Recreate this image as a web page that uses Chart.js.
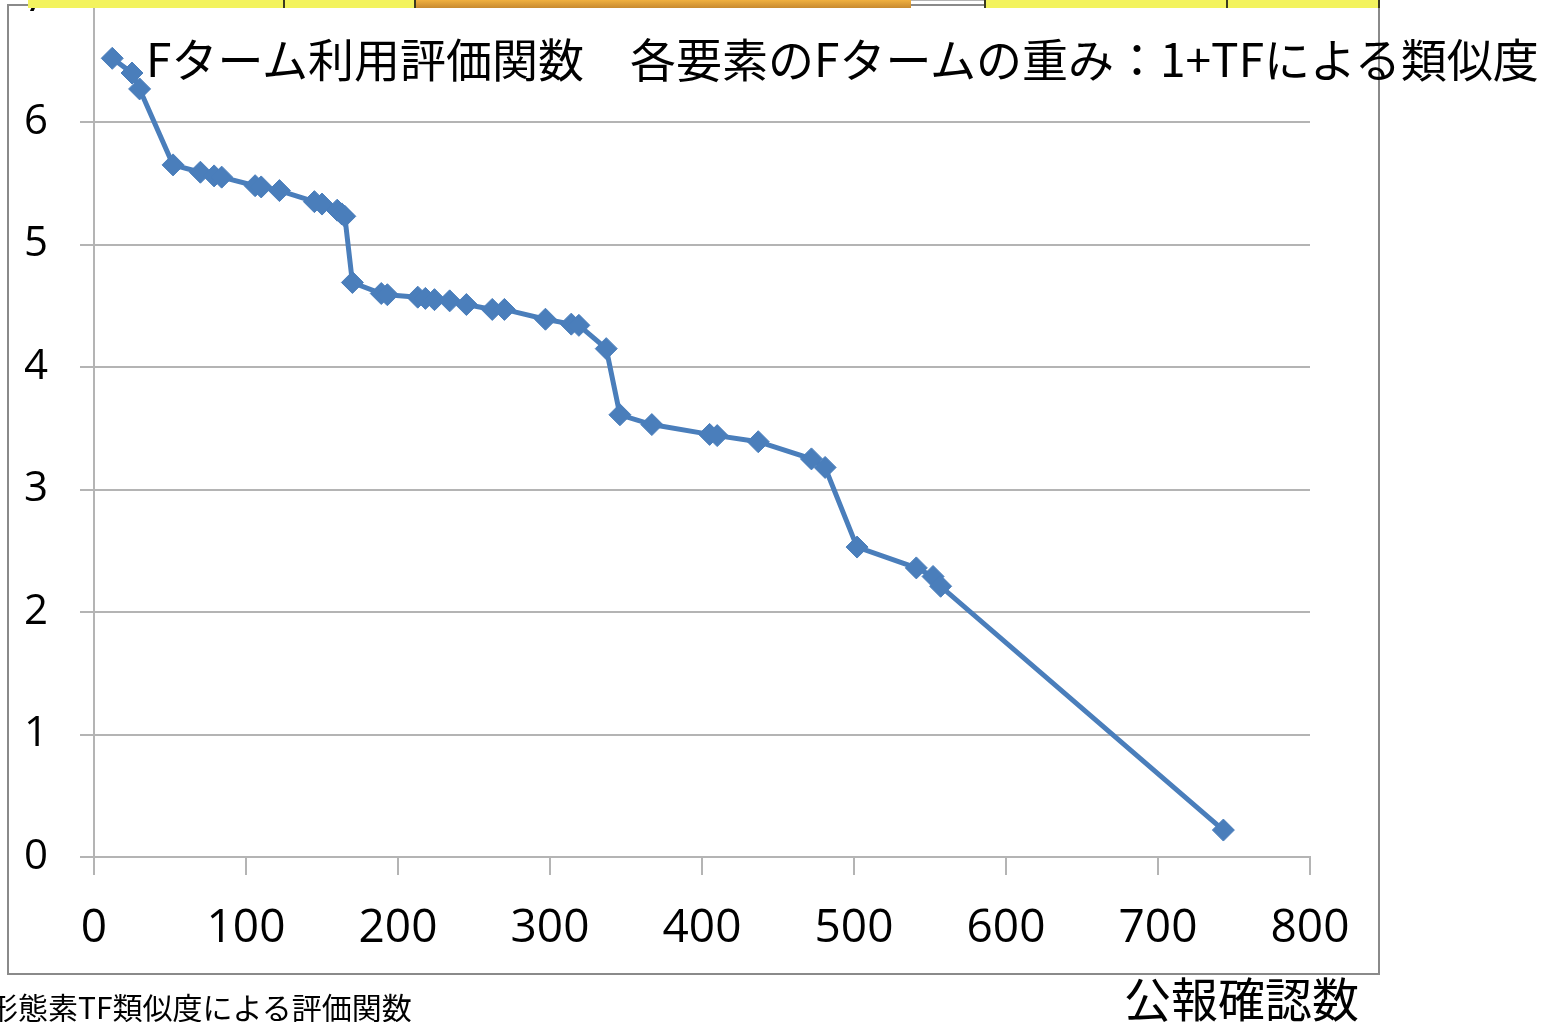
<!DOCTYPE html>
<html>
<head>
<meta charset="utf-8">
<script src="https://cdn.jsdelivr.net/npm/chart.js@4/dist/chart.umd.min.js"></script>
<style>
  html, body { margin: 0; padding: 0; background: #fff; }
  body { width: 1544px; height: 1022px; position: relative; overflow: hidden; }
  #marco { position: absolute; left: 7px; top: 4px; width: 1369px; height: 967px; border: 2px solid #8a8a8a; }
  #lienzo { position: absolute; left: 0; top: -40px; width: 1544px; height: 1062px; }
  #franja { position: absolute; left: 0; top: 0; width: 1544px; height: 8px; z-index: 5; }
  #franja div { position: absolute; top: 0; height: 8px; }
  .titulo { position: absolute; font-family: "Noto Sans CJK JP", sans-serif; color: #000; white-space: nowrap; line-height: 1; }
</style>
</head>
<body>
<div id="marco"></div>
<div id="lienzo"><canvas id="plot1"></canvas></div>
<div id="franja">
  <div style="left:28px;width:255px;background:#f3f35e;border-right:2px solid #3a3a20"></div>
  <div style="left:285px;width:129px;background:#f3f35e;border-right:2px solid #3a3a20"></div>
  <div style="left:416px;width:495px;background:linear-gradient(#f0b040,#c88a30)"></div>
  <div style="left:984px;width:240px;background:#f3f35e;border-left:2px solid #3a3a20;border-right:2px solid #3a3a20"></div>
  <div style="left:1228px;width:150px;background:#f3f35e;border-right:2px solid #3a3a20"></div>
</div>
<div class="titulo" style="left:146px;top:34px;font-size:46px">Fターム利用評価関数　各要素のFタームの重み：1+TFによる類似度</div>
<div class="titulo" style="left:-12px;top:991px;font-size:30px">形態素TF類似度による評価関数</div>
<div class="titulo" style="left:1124px;top:973px;font-size:47px">公報確認数</div>
<script>
// Datos: 公報確認数 (x) y valor del 評価関数 (y)
let confirmados = [12, 25, 30, 52, 70, 79, 84, 106, 110, 122, 145, 150, 160, 163, 165,
  170, 189, 193, 213, 218, 224, 234, 245, 262, 270, 297, 314, 319, 337,
  346, 367, 405, 410, 437, 472, 481, 502, 541, 552, 557, 743]
let evaluacion = [6.52, 6.40, 6.27, 5.65, 5.59, 5.56, 5.55, 5.48, 5.47, 5.44, 5.35, 5.33, 5.28, 5.25, 5.23,
  4.69, 4.60, 4.59, 4.57, 4.56, 4.55, 4.54, 4.51, 4.47, 4.47, 4.39, 4.35, 4.34, 4.15,
  3.61, 3.53, 3.45, 3.44, 3.39, 3.25, 3.18, 2.53, 2.36, 2.29, 2.21, 0.22]
let ticksX = [0, 100, 200, 300, 400, 500, 600, 700, 800]
let ticksY = [0, 1, 2, 3, 4, 5, 6, 7]

let cargarGrafico = () => {
  let plotRef = document.getElementById('plot1')
  let puntos = confirmados.map((x, i) => ({ x: x, y: evaluacion[i] }))
  let gris = '#b4b4b4'

  let config = {
    type: 'scatter',
    data: {
      datasets: [
        {
          label: '評価関数',
          data: puntos,
          showLine: true,
          borderColor: '#4a7ebb',
          backgroundColor: '#4a7ebb',
          borderWidth: 5,
          pointStyle: 'rectRot',
          pointRadius: 11,
          pointBorderWidth: 1,
          pointHoverRadius: 11
        }
      ]
    },
    options: {
      responsive: true,
      maintainAspectRatio: false,
      animation: false,
      layout: { padding: { top: 39.5, left: 25, right: 234, bottom: 68 } },
      plugins: { legend: { display: false }, tooltip: { enabled: false } },
      scales: {
        x: {
          type: 'linear',
          min: ticksX[0],
          max: ticksX[ticksX.length - 1],
          afterBuildTicks: (axis) => { axis.ticks = ticksX.map(v => ({ value: v })) },
          // alto fijo: marcas + separación + una línea de texto
          afterFit: (axis) => { axis.height = 97 },
          grid: { drawOnChartArea: false, drawTicks: true, tickLength: 18, color: gris, lineWidth: 2 },
          border: { display: true, color: gris, width: 2 },
          ticks: { color: '#000', padding: 26, font: { family: 'Open Sans', size: 46 } }
        },
        y: {
          type: 'linear',
          min: ticksY[0],
          max: ticksY[ticksY.length - 1],
          afterBuildTicks: (axis) => { axis.ticks = ticksY.map(v => ({ value: v })) },
          afterFit: (axis) => {
            axis.width = 69
            axis.paddingTop = 0
            axis.paddingBottom = 0
          },
          grid: { drawOnChartArea: true, drawTicks: true, tickLength: 14, color: gris, lineWidth: 2 },
          border: { display: true, color: gris, width: 2 },
          ticks: { color: '#000', padding: 32, font: { family: 'Open Sans', size: 42 } }
        }
      }
    }
  }

  let chart1 = new Chart(plotRef, config)
}

cargarGrafico()
</script>
</body>
</html>
